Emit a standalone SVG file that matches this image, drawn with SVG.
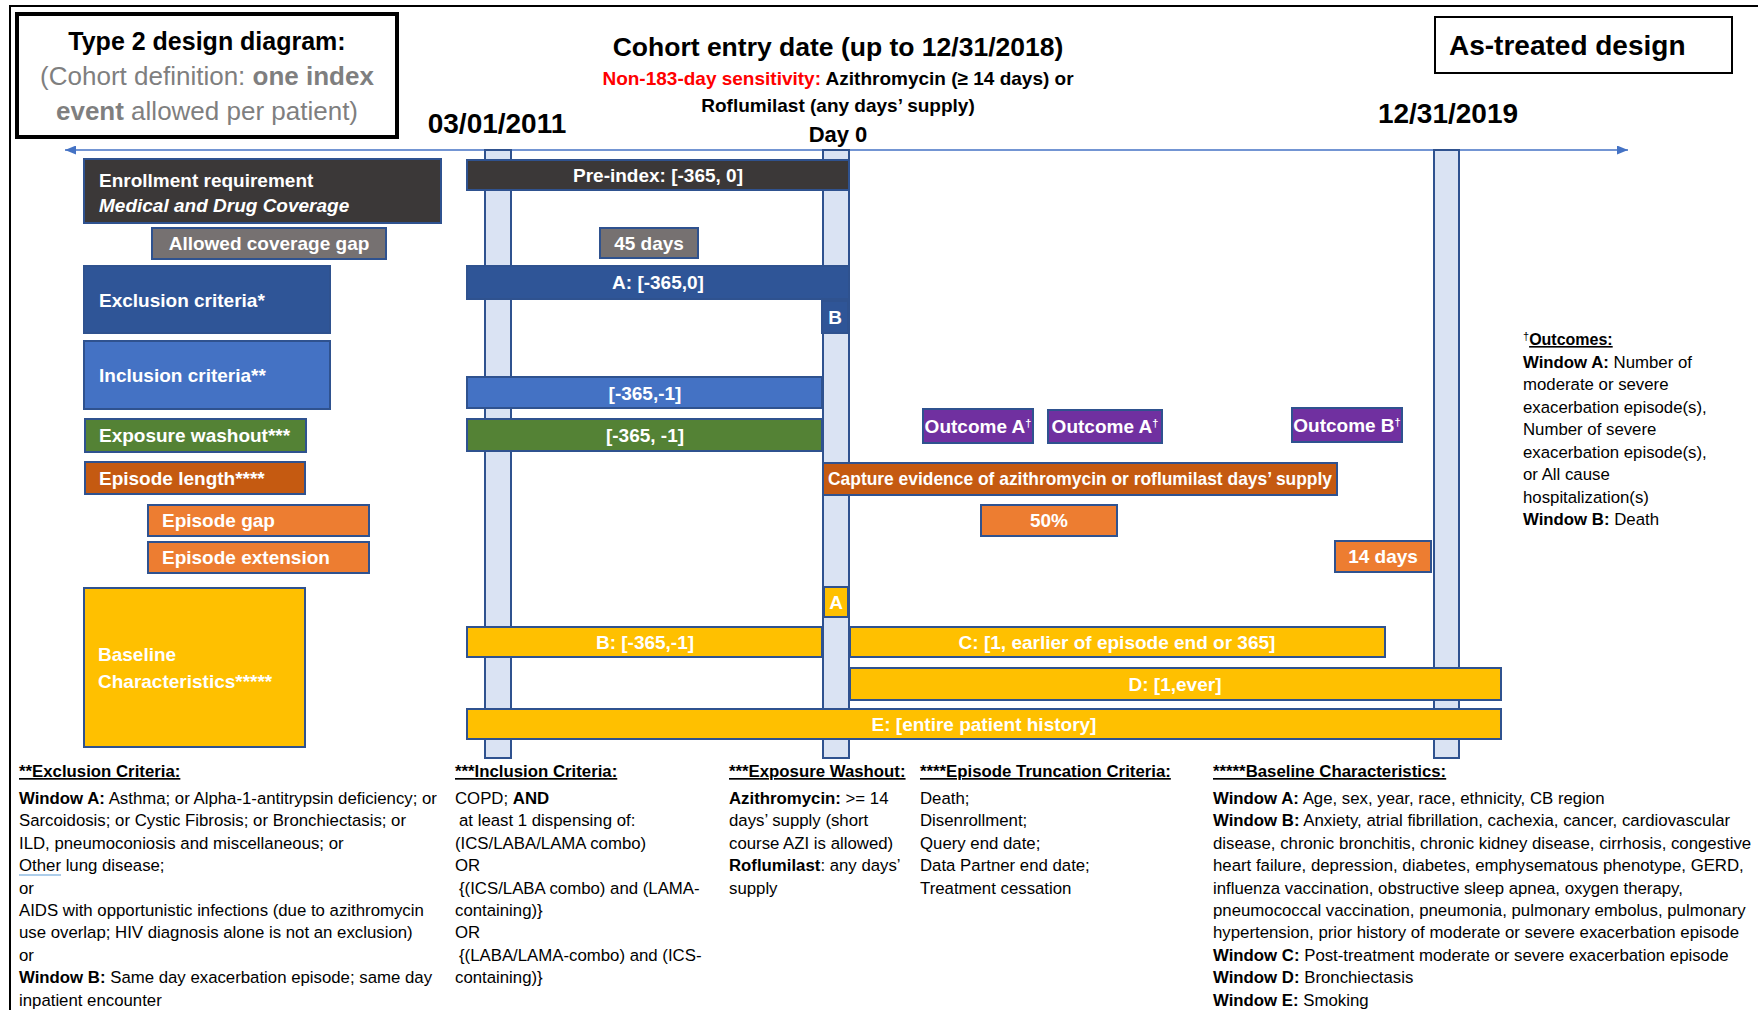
<svg xmlns="http://www.w3.org/2000/svg" width="1758" height="1010" viewBox="0 0 1758 1010">
<defs>
<style>
text{font-family:"Liberation Sans",Arial,sans-serif}
.box{stroke:#2f528f;stroke-width:2}
.vbar{fill:#dae3f3;stroke:#2f528f;stroke-width:2}
.w{fill:#fff;font-weight:bold;font-size:19px}
.wc{fill:#fff;font-weight:bold;font-size:19px;text-anchor:middle}
.hd{font-weight:bold;fill:#000}
.body{font-size:16.8px;fill:#000}
.b{font-weight:bold}
.u{text-decoration:underline}
.dg{font-size:11px}
.dk{fill:#3b3838}.gy{fill:#767171}.db{fill:#2f5597}.bl{fill:#4472c4}.gr{fill:#548235}.do{fill:#c55a11}.or{fill:#ed7d31}.pu{fill:#7030a0}.ye{fill:#ffc000}
</style>
<marker id="ah" viewBox="0 0 10 10" refX="10" refY="5" markerWidth="11" markerHeight="9" markerUnits="userSpaceOnUse" orient="auto-start-reverse" preserveAspectRatio="none">
<path d="M0,0 L10,5 L0,10 z" fill="#4472c4"/>
</marker>
</defs>
<rect x="0" y="0" width="1758" height="1010" fill="#fff"/>
<rect x="10" y="6" width="1770" height="1020" fill="none" stroke="#000" stroke-width="2"/>

<g id="title-box">
<rect x="17" y="14" width="380" height="123" fill="#fff" stroke="#000" stroke-width="4"/>
<text x="207" y="50" text-anchor="middle" font-size="25" class="hd">Type 2 design diagram:</text>
<text x="207" y="85" text-anchor="middle" font-size="26" fill="#7f7f7f">(Cohort definition: <tspan class="b">one index</tspan></text>
<text x="207" y="120" text-anchor="middle" font-size="26" fill="#7f7f7f"><tspan class="b">event</tspan> allowed per patient)</text>
</g>

<g id="cohort-entry">
<text x="838" y="56" text-anchor="middle" font-size="26.5" class="hd">Cohort entry date (up to 12/31/2018)</text>
<text x="838" y="85" text-anchor="middle" font-size="19" class="hd"><tspan fill="#ff0000">Non-183-day sensitivity:</tspan> Azithromycin (≥ 14 days) or</text>
<text x="838" y="112" text-anchor="middle" font-size="19" class="hd">Roflumilast (any days’ supply)</text>
<text x="838" y="142" text-anchor="middle" font-size="22" class="hd">Day 0</text>
</g>

<g id="date-start"><text x="497" y="133" text-anchor="middle" font-size="28" class="hd">03/01/2011</text></g>
<g id="date-end"><text x="1448" y="123" text-anchor="middle" font-size="28" class="hd">12/31/2019</text></g>

<g id="as-treated">
<rect x="1435" y="17" width="297" height="56" fill="#fff" stroke="#000" stroke-width="2"/>
<text x="1449" y="55" font-size="28" class="hd">As-treated design</text>
</g>

<g id="connectors">
<line x1="65" y1="150" x2="1628" y2="150" stroke="#4472c4" stroke-width="1.5" marker-start="url(#ah)" marker-end="url(#ah)"/>
</g>

<g id="vbar-start"><rect class="vbar" x="485" y="150" width="26" height="608"/></g>
<g id="vbar-day0"><rect class="vbar" x="823" y="150" width="26" height="608"/></g>
<g id="vbar-end"><rect class="vbar" x="1434" y="150" width="25" height="608"/></g>

<g id="enrollment">
<rect class="box dk" x="84" y="159" width="357" height="64"/>
<text x="99" y="187" class="w">Enrollment requirement</text>
<text x="99" y="212" class="w" font-style="italic">Medical and Drug Coverage</text>
</g>
<g id="coverage-gap">
<rect class="box gy" x="152" y="228" width="234" height="31"/>
<text x="269" y="250" class="wc">Allowed coverage gap</text>
</g>
<g id="exclusion">
<rect class="box db" x="84" y="266" width="246" height="67"/>
<text x="99" y="307" class="w">Exclusion criteria*</text>
</g>
<g id="inclusion">
<rect class="box bl" x="84" y="341" width="246" height="68"/>
<text x="99" y="382" class="w">Inclusion criteria**</text>
</g>
<g id="washout">
<rect class="box gr" x="85" y="419" width="221" height="33"/>
<text x="99" y="442" class="w">Exposure washout***</text>
</g>
<g id="episode-length">
<rect class="box do" x="85" y="462" width="220" height="32"/>
<text x="99" y="485" class="w">Episode length****</text>
</g>
<g id="episode-gap">
<rect class="box or" x="148" y="505" width="221" height="31"/>
<text x="162" y="527" class="w">Episode gap</text>
</g>
<g id="episode-extension">
<rect class="box or" x="148" y="542" width="221" height="31"/>
<text x="162" y="564" class="w">Episode extension</text>
</g>
<g id="baseline">
<rect class="box ye" x="84" y="588" width="221" height="159"/>
<text x="98" y="661" class="w">Baseline</text>
<text x="98" y="688" class="w">Characteristics*****</text>
</g>

<g id="pre-index">
<rect class="box dk" x="467" y="160" width="382" height="30"/>
<text x="658" y="182" class="wc">Pre-index: [-365, 0]</text>
</g>
<g id="gap-45">
<rect class="box gy" x="600" y="228" width="98" height="30"/>
<text x="649" y="250" class="wc">45 days</text>
</g>
<g id="excl-a">
<rect class="box db" x="467" y="266" width="382" height="33"/>
<text x="658" y="289" class="wc">A: [-365,0]</text>
</g>
<g id="excl-b">
<rect class="box db" x="822" y="301" width="26" height="32"/>
<text x="835" y="324" class="wc">B</text>
</g>
<g id="incl-window">
<rect class="box bl" x="467" y="377" width="355" height="31"/>
<text x="645" y="400" class="wc">[-365,-1]</text>
</g>
<g id="washout-window">
<rect class="box gr" x="467" y="419" width="355" height="32"/>
<text x="645" y="442" class="wc">[-365, -1]</text>
</g>
<g id="outcome-a1">
<rect class="box pu" x="923" y="409" width="110" height="34"/>
<text x="978" y="433" class="wc" font-size="18.5">Outcome A<tspan class="dg" dy="-6">†</tspan></text>
</g>
<g id="outcome-a2">
<rect class="box pu" x="1048" y="410" width="114" height="33"/>
<text x="1105" y="433" class="wc" font-size="18.5">Outcome A<tspan class="dg" dy="-6">†</tspan></text>
</g>
<g id="outcome-b">
<rect class="box pu" x="1292" y="408" width="110" height="34"/>
<text x="1347" y="432" class="wc" font-size="18.5">Outcome B<tspan class="dg" dy="-6">†</tspan></text>
</g>
<g id="capture">
<rect class="box do" x="823" y="463" width="514" height="32"/>
<text x="1080" y="485" class="wc" font-size="17" textLength="504" lengthAdjust="spacingAndGlyphs">Capture evidence of azithromycin or roflumilast days’ supply</text>
</g>
<g id="pct-50">
<rect class="box or" x="981" y="505" width="136" height="31"/>
<text x="1049" y="527" class="wc">50%</text>
</g>
<g id="days-14">
<rect class="box or" x="1335" y="541" width="96" height="31"/>
<text x="1383" y="563" class="wc">14 days</text>
</g>
<g id="base-a">
<rect class="box ye" x="824" y="587" width="24" height="30"/>
<text x="836" y="609" class="wc">A</text>
</g>
<g id="base-b">
<rect class="box ye" x="467" y="627" width="355" height="30"/>
<text x="645" y="649" class="wc">B: [-365,-1]</text>
</g>
<g id="base-c">
<rect class="box ye" x="850" y="627" width="535" height="30"/>
<text x="1117" y="649" class="wc">C: [1, earlier of episode end or 365]</text>
</g>
<g id="base-d">
<rect class="box ye" x="850" y="668" width="651" height="32"/>
<text x="1175" y="691" class="wc">D: [1,ever]</text>
</g>
<g id="base-e">
<rect class="box ye" x="467" y="709" width="1034" height="30"/>
<text x="984" y="731" class="wc">E: [entire patient history]</text>
</g>

<g id="outcomes-note">
<text x="1523" y="345" class="body"><tspan class="dg" dy="-5">†</tspan><tspan class="b u" dy="5" font-size="16">Outcomes:</tspan></text>
<text x="1523" y="367.5" class="body"><tspan class="b">Window A:</tspan> Number of</text>
<text x="1523" y="390" class="body">moderate or severe</text>
<text x="1523" y="412.5" class="body">exacerbation episode(s),</text>
<text x="1523" y="435" class="body">Number of severe</text>
<text x="1523" y="457.5" class="body">exacerbation episode(s),</text>
<text x="1523" y="480" class="body">or All cause</text>
<text x="1523" y="502.5" class="body">hospitalization(s)</text>
<text x="1523" y="525" class="body"><tspan class="b">Window B:</tspan> Death</text>
</g>

<g id="exclusion-note">
<text x="19" y="777" class="body b u" font-size="16">**Exclusion Criteria:</text>
<text x="19" y="804" class="body"><tspan class="b">Window A:</tspan> Asthma; or Alpha-1-antitrypsin deficiency; or</text>
<text x="19" y="826.4" class="body">Sarcoidosis; or Cystic Fibrosis; or Bronchiectasis; or</text>
<text x="19" y="848.8" class="body">ILD, pneumoconiosis and miscellaneous; or</text>
<text x="19" y="871.2" class="body">Other lung disease;</text>
<line x1="19" y1="875" x2="61" y2="875" stroke="#5b9bd5" stroke-width="1.2"/>
<text x="19" y="893.6" class="body">or</text>
<text x="19" y="916" class="body">AIDS with opportunistic infections (due to azithromycin</text>
<text x="19" y="938.4" class="body">use overlap; HIV diagnosis alone is not an exclusion)</text>
<text x="19" y="960.8" class="body">or</text>
<text x="19" y="983.2" class="body"><tspan class="b">Window B:</tspan> Same day exacerbation episode; same day</text>
<text x="19" y="1005.6" class="body">inpatient encounter</text>
</g>

<g id="inclusion-note">
<text x="455" y="777" class="body b u" font-size="16">***Inclusion Criteria:</text>
<text x="455" y="804" class="body">COPD; <tspan class="b">AND</tspan></text>
<text x="459" y="826.4" class="body">at least 1 dispensing of:</text>
<text x="455" y="848.8" class="body">(ICS/LABA/LAMA combo)</text>
<text x="455" y="871.2" class="body">OR</text>
<text x="459" y="893.6" class="body">{(ICS/LABA combo) and (LAMA-</text>
<text x="455" y="916" class="body">containing)}</text>
<text x="455" y="938.4" class="body">OR</text>
<text x="459" y="960.8" class="body">{(LABA/LAMA-combo) and (ICS-</text>
<text x="455" y="983.2" class="body">containing)}</text>
</g>

<g id="washout-note">
<text x="729" y="777" class="body b u" font-size="16">***Exposure Washout:</text>
<text x="729" y="804" class="body"><tspan class="b">Azithromycin:</tspan> &gt;= 14</text>
<text x="729" y="826.4" class="body">days’ supply (short</text>
<text x="729" y="848.8" class="body">course AZI is allowed)</text>
<text x="729" y="871.2" class="body"><tspan class="b">Roflumilast</tspan>: any days’</text>
<text x="729" y="893.6" class="body">supply</text>
</g>

<g id="truncation-note">
<text x="920" y="777" class="body b u" font-size="16">****Episode Truncation Criteria:</text>
<text x="920" y="804" class="body">Death;</text>
<text x="920" y="826.4" class="body">Disenrollment;</text>
<text x="920" y="848.8" class="body">Query end date;</text>
<text x="920" y="871.2" class="body">Data Partner end date;</text>
<text x="920" y="893.6" class="body">Treatment cessation</text>
</g>

<g id="baseline-note">
<text x="1213" y="777" class="body b u" font-size="16">*****Baseline Characteristics:</text>
<text x="1213" y="804" class="body"><tspan class="b">Window A:</tspan> Age, sex, year, race, ethnicity, CB region</text>
<text x="1213" y="826.4" class="body"><tspan class="b">Window B:</tspan> Anxiety, atrial fibrillation, cachexia, cancer, cardiovascular</text>
<text x="1213" y="848.8" class="body">disease, chronic bronchitis, chronic kidney disease, cirrhosis, congestive</text>
<text x="1213" y="871.2" class="body">heart failure, depression, diabetes, emphysematous phenotype, GERD,</text>
<text x="1213" y="893.6" class="body">influenza vaccination, obstructive sleep apnea, oxygen therapy,</text>
<text x="1213" y="916" class="body">pneumococcal vaccination, pneumonia, pulmonary embolus, pulmonary</text>
<text x="1213" y="938.4" class="body">hypertension, prior history of moderate or severe exacerbation episode</text>
<text x="1213" y="960.8" class="body"><tspan class="b">Window C:</tspan> Post-treatment moderate or severe exacerbation episode</text>
<text x="1213" y="983.2" class="body"><tspan class="b">Window D:</tspan> Bronchiectasis</text>
<text x="1213" y="1005.6" class="body"><tspan class="b">Window E:</tspan> Smoking</text>
</g>
</svg>
